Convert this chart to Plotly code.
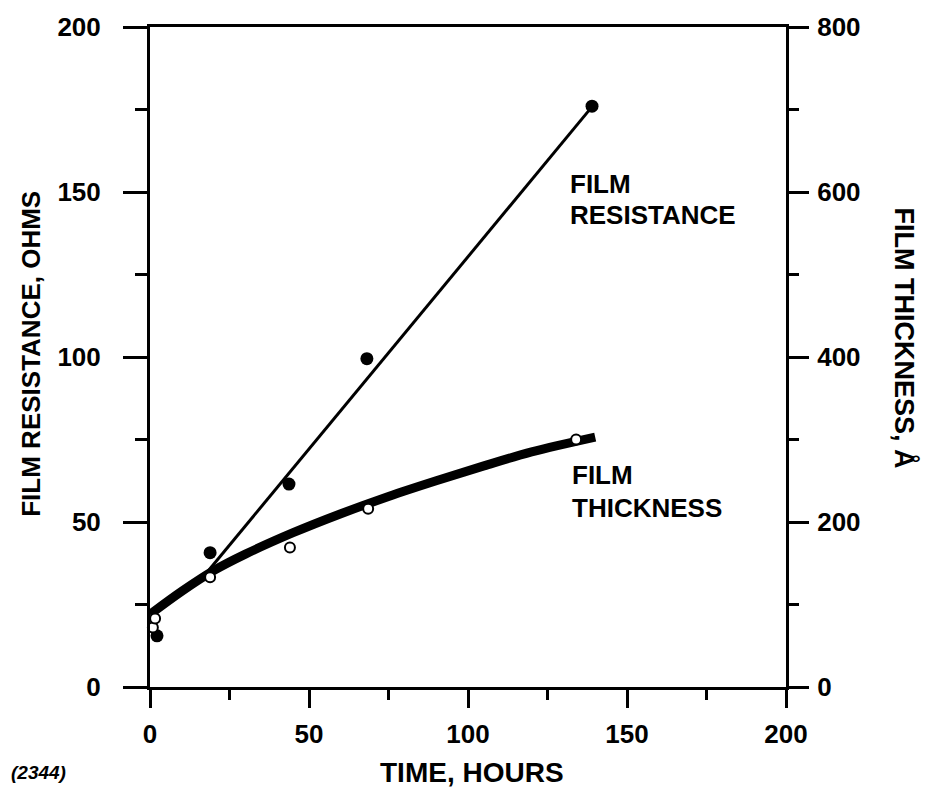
import plotly.graph_objects as go

# ---- data ----
res_time = [2.2, 18.9, 43.7, 68.2, 139]          # hours
res_ohms = [15.5, 40.7, 61.5, 99.5, 176]          # ohms (left axis)

fit_time = [16, 140]
fit_ohms = [32.5, 177]

thk_time = [0.9, 1.6, 18.9, 44, 68.6, 134]       # hours
thk_ang = [72, 83, 133, 169, 216, 300]            # angstrom (right axis)

curve_time = [0, 10, 20, 30, 45, 60, 75, 90, 105, 120, 140]
curve_ang = [88, 116, 141, 161, 187, 210, 231, 250, 268, 285, 303]

x_ticks = [0, 50, 100, 150, 200]
y_ticks = [0, 50, 100, 150, 200]
y2_ticks = [0, 200, 400, 600, 800]

FONT = "Liberation Sans"

fig = go.Figure()

fig.add_trace(go.Scatter(
    x=curve_time, y=curve_ang, yaxis="y2", mode="lines",
    line=dict(color="black", width=9, shape="spline"),
    hoverinfo="skip", showlegend=False))

fig.add_trace(go.Scatter(
    x=fit_time, y=fit_ohms, mode="lines",
    line=dict(color="black", width=3),
    hoverinfo="skip", showlegend=False))

fig.add_trace(go.Scatter(
    x=res_time, y=res_ohms, mode="markers",
    marker=dict(color="black", size=13, symbol="circle"),
    cliponaxis=False, showlegend=False))

fig.add_trace(go.Scatter(
    x=thk_time, y=thk_ang, yaxis="y2", mode="markers",
    marker=dict(color="white", size=10, symbol="circle",
                line=dict(color="black", width=2)),
    cliponaxis=False, showlegend=False))

tickfont = dict(family=FONT, size=26, color="black", weight="bold")

fig.update_layout(
    width=927, height=794,
    margin=dict(l=150, r=141, t=24, b=107),
    paper_bgcolor="white", plot_bgcolor="white",
    showlegend=False,
    xaxis=dict(
        range=[0, 200], tickvals=x_ticks, ticktext=[str(v) for v in x_ticks],
        ticks="outside", ticklen=18, tickwidth=3, tickcolor="black",
        minor=dict(tickvals=[25, 75, 125, 175], ticks="outside", ticklen=10,
                   tickwidth=3, tickcolor="black", showgrid=False),
        showline=True, linewidth=3, linecolor="black", mirror=True,
        showgrid=False, zeroline=False, tickfont=tickfont,
        ticklabelstandoff=4),
    yaxis=dict(
        range=[0, 200], tickvals=y_ticks, ticktext=[str(v) for v in y_ticks],
        ticks="outside", ticklen=24, tickwidth=3, tickcolor="black",
        minor=dict(tickvals=[25, 75, 125, 175], ticks="outside", ticklen=12,
                   tickwidth=3, tickcolor="black", showgrid=False),
        showline=True, linewidth=3, linecolor="black",
        showgrid=False, zeroline=False, tickfont=tickfont,
        ticklabelstandoff=17),
    yaxis2=dict(
        range=[0, 800], tickvals=y2_ticks, ticktext=[str(v) for v in y2_ticks],
        overlaying="y", side="right",
        ticks="outside", ticklen=20, tickwidth=3, tickcolor="black",
        minor=dict(tickvals=[100, 300, 500, 700], ticks="outside", ticklen=10,
                   tickwidth=3, tickcolor="black", showgrid=False),
        showline=True, linewidth=3, linecolor="black",
        showgrid=False, zeroline=False, tickfont=tickfont,
        ticklabelstandoff=3),
)

def ann(text, x, y, size, xref="x", yref="y", angle=0, xanchor="left",
        italic=False):
    fig.add_annotation(
        text=text, x=x, y=y, xref=xref, yref=yref, showarrow=False,
        xanchor=xanchor, yanchor="middle", textangle=angle,
        font=dict(family=FONT, size=size, color="black", weight="bold",
                  style="italic" if italic else "normal"))

ann("FILM", 131.4, 152.5, 26)
ann("RESISTANCE", 131.4, 143, 26)
ann("FILM", 132, 64.3, 26)
ann("THICKNESS", 132, 54.3, 26)

ann("FILM RESISTANCE, OHMS", -0.187, 0.505, 26, xref="paper", yref="paper",
    angle=-90, xanchor="center")
ann("FILM THICKNESS, Å", 1.187, 0.528, 27, xref="paper", yref="paper",
    angle=90, xanchor="center")
ann("TIME, HOURS", 0.506, -0.130, 28, xref="paper", yref="paper",
    xanchor="center")
ann("(2344)", -0.222, -0.130, 19, xref="paper", yref="paper",
    xanchor="left", italic=True)

fig.write_html("out.html")
